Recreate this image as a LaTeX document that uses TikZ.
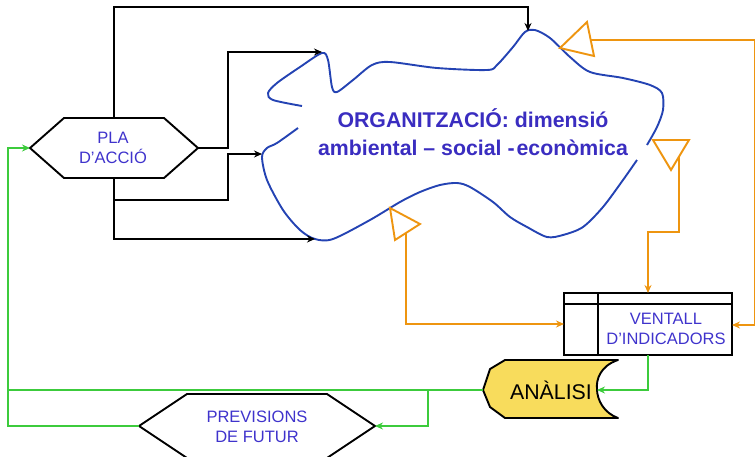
\documentclass[tikz,border=0pt]{standalone}
\usepackage{fontspec}
\setmainfont{Liberation Sans}
\usetikzlibrary{arrows.meta}
\definecolor{txtblue}{HTML}{3F33CC}
\definecolor{bigblue}{HTML}{3A2DC0}
\definecolor{cloudblue}{HTML}{2443B3}
\definecolor{orng}{HTML}{EE9510}
\definecolor{grn}{HTML}{3CCB3C}
\definecolor{ylw}{HTML}{F8DC5C}
\tikzset{
  blk/.style={draw=black,line width=1.9pt},
  blkarrow/.style={draw=black,line width=1.9pt,-{Stealth[length=8pt,width=7pt]}},
  orarrow/.style={draw=orng,line width=1.9pt,-{Stealth[length=8pt,width=7pt]}},
  orline/.style={draw=orng,line width=1.9pt},
  grarrow/.style={draw=grn,line width=1.9pt,-{Stealth[length=8pt,width=7pt]}},
  grline/.style={draw=grn,line width=1.9pt},
  tri/.style={draw=orng,line width=1.9pt,fill=white,line join=miter},
  cloudline/.style={draw=cloudblue,line width=1.9pt},
  smalltxt/.style={text=txtblue,font=\fontsize{16.5}{20}\selectfont,align=center,inner sep=0pt},
}
\begin{document}
\begin{tikzpicture}[x=1pt,y=-1pt]
\useasboundingbox (0,0) rectangle (756,456);
% cloud
\draw[cloudline] plot[smooth,tension=0.5] coordinates {(647,145) (657,127) (663,110) (662,93) (650,85) (623,78) (590,72) (570,57) (550,38) (535,30) (525,32) (513,47) (497,65) (487,70) (437,68) (390,62) (372,65) (353,80) (337,92) (332,87) (328,60) (322,53) (300,67) (277,83) (268,93) (273,100) (302,106)};
\draw[cloudline] plot[smooth,tension=0.5] coordinates {(298,128) (277,143) (267,148) (262,157) (267,180) (283,210) (300,230) (315,239) (333,239) (370,220) (400,202) (420,192) (440,185) (457,183) (470,187) (493,202) (510,217) (527,227) (547,237) (563,235) (583,227) (603,207) (623,180) (637,160)};
\node[text=bigblue,font=\fontsize{21.3}{28}\selectfont\bfseries,align=center] (org) at (473,132) {ORGANITZACIÓ: dimensió\\ambiental – social -\hspace{2pt}econòmica};
% cloud attach points
\coordinate (cTop) at (528,31);
\coordinate (cUL) at (322,52);
\coordinate (cL) at (262,154);
\coordinate (cB) at (315,239);
% PLA hexagon
\draw[blk,fill=white] (30,148) -- (64,118) -- (164,118) -- (198,148) -- (164,178) -- (64,178) -- cycle;
\node[smalltxt] (pla) at (113,148) {PLA\\D'ACCIÓ};
\coordinate (plaL) at (30,148);
\coordinate (plaR) at (198,148);
\coordinate (plaT) at (114,118);
\coordinate (plaB) at (114,178);
\coordinate (j1) at (114,200);
% black connectors
\draw[blkarrow] (plaT) -- (114,7) -- (528,7) -- (cTop);
\draw[blkarrow] (plaR) -- (228,148) -- (228,52) -- (cUL);
\draw[blkarrow] (plaB) -- (j1) -- (228,200) -- (228,154) -- (cL);
\draw[blkarrow] (j1) -- (114,239) -- (cB);
% VENTALL box
\draw[blk] (564,293) rectangle (732,355);
\draw[blk] (564,304) -- (732,304);
\draw[blk] (598,293) -- (598,355);
\node[smalltxt] (ven) at (666,329) {VENTALL\\D’INDICADORS};
\coordinate (venT) at (648,293);
\coordinate (venL) at (564,324);
\coordinate (venR) at (732,325);
\coordinate (venB) at (648,355);
% orange triangles and connectors
\draw[tri] (560,48) -- (587,22) -- (594,56) -- cycle;
\draw[tri] (653,140) -- (689,140) -- (671,170) -- cycle;
\draw[tri] (390,208) -- (420,224) -- (395,240) -- cycle;
\coordinate (t1) at (591,40);
\coordinate (t2) at (679,156);
\coordinate (t3) at (406,233);
\draw[orarrow] (t1) -- (754.5,40) -- (754.5,325) -- (venR);
\draw[orarrow] (t2) -- (679,232) -- (648,232) -- (venT);
\draw[orarrow] (t3) -- (406,324) -- (venL);
% ANALISI
\draw[blk,fill=ylw,line join=round] (618,360) .. controls (600,366) and (596,380) .. (597,389) .. controls (597,400) and (604,413) .. (618,418) -- (505,418) -- (490,407) -- (483,390) -- (490,369) -- (505,360) -- cycle;
\node[font=\fontsize{21.3}{24}\selectfont,text=black,inner sep=0pt] (ana) at (551,390) {ANÀLISI};
\coordinate (anaR) at (597,390);
\coordinate (anaL) at (483,390);
% PREVISIONS hexagon
\draw[blk,fill=white] (139,426) -- (187,394) -- (327,394) -- (375,426) -- (327,458) -- (187,458) -- cycle;
\node[smalltxt] (prev) at (257,427) {PREVISIONS\\DE FUTUR};
\coordinate (prevL) at (139,426);
\coordinate (prevR) at (375,426);
% green connectors
\draw[grarrow] (venB) -- (648,390) -- (anaR);
\draw[grline] (anaL) -- (8,390);
\draw[grarrow] (prevL) -- (8,426) -- (8,148) -- (plaL);
\draw[grarrow] (428,390) -- (428,426) -- (prevR);
\end{tikzpicture}
\end{document}
